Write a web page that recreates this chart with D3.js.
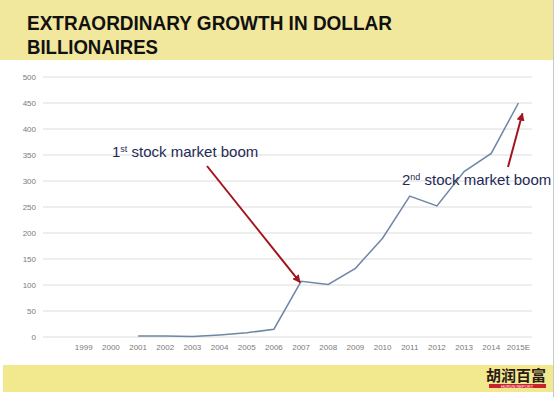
<!DOCTYPE html>
<html lang="en">
<head>
<meta charset="utf-8">
<title>Extraordinary growth in dollar billionaires</title>
<script src="https://cdn.jsdelivr.net/npm/d3@7"></script>
<style>
body { margin: 0; background: #fff; }
svg { display: block; font-family: "Liberation Sans", Arial, sans-serif; }
.axis text { font-size: 8px; fill: #7a7a7a; }
.axis .domain { display: none; }
</style>
</head>
<body>
<svg width="557" height="397"></svg>
<script>

// first slot on the category axis is an empty one, like in the original sheet
const years = ['', '1999', '2000', '2001', '2002', '2003', '2004', '2005', '2006',
  '2007', '2008', '2009', '2010', '2011', '2012', '2013', '2014', '2015E'];
const billionaires = [null, null, null, 2, 2, 1, 4, 8, 15,
  107, 101, 132, 190, 271, 252, 318, 353, 450];
const yTicks = [0, 50, 100, 150, 200, 250, 300, 350, 400, 450, 500];

const svg = d3.select('svg'),
    plotLeft = 43, plotRight = 532, plotTop = 77, plotBottom = 337;

// yellow bands top and bottom
svg.append('rect').attr('x', 0).attr('y', 0).attr('width', 553).attr('height', 60)
  .attr('fill', '#f1e79d');
svg.append('rect').attr('x', 3).attr('y', 365).attr('width', 550).attr('height', 27)
  .attr('fill', '#f2e98f');
svg.append('line').attr('x1', 553.5).attr('x2', 553.5).attr('y1', 0).attr('y2', 397)
  .attr('stroke', '#c8c8c8');

// title is a bit narrower than plain Liberation bold, so squeeze it
svg.append('text').attr('x', 27).attr('y', 30)
  .attr('font-size', 20).attr('font-weight', 'bold').attr('fill', '#111')
  .attr('textLength', 365).attr('lengthAdjust', 'spacingAndGlyphs')
  .text('EXTRAORDINARY GROWTH IN DOLLAR');
svg.append('text').attr('x', 27).attr('y', 54)
  .attr('font-size', 20).attr('font-weight', 'bold').attr('fill', '#111')
  .attr('textLength', 131).attr('lengthAdjust', 'spacingAndGlyphs')
  .text('BILLIONAIRES');

let x = d3.scaleBand().domain(years).range([plotLeft, plotRight]);
let y = d3.scaleLinear().domain([0, 500]).range([plotBottom, plotTop]);

// gridlines
svg.append('g').selectAll('line')
  .data(yTicks)
  .enter().append('line')
    .attr('x1', plotLeft).attr('x2', plotRight)
    .attr('y1', d => y(d)).attr('y2', d => y(d))
    .attr('stroke', '#dcdcdc').attr('stroke-width', 1);

svg.append('g')
  .attr('class', 'axis')
  .attr('transform', 'translate(' + (plotLeft - 4) + ',0)')
  .call(d3.axisLeft(y).tickValues(yTicks).tickSize(0));

svg.append('g')
  .attr('class', 'axis')
  .attr('transform', 'translate(0,' + (plotBottom + 4) + ')')
  .call(d3.axisBottom(x).tickSize(0));

let line = d3.line()
  .defined(d => d != null)
  .x((d, i) => x(years[i]) + x.bandwidth() / 2)
  .y(d => y(d));

svg.append('path')
  .datum(billionaires)
  .attr('fill', 'none')
  .attr('stroke', '#6f86a6')
  .attr('stroke-width', 1.5)
  .attr('d', line);

// annotations
svg.append('defs').append('marker')
    .attr('id', 'head')
    .attr('viewBox', '0 0 10 10')
    .attr('refX', 9).attr('refY', 5)
    .attr('markerWidth', 4).attr('markerHeight', 4)
    .attr('orient', 'auto')
  .append('path')
    .attr('d', 'M0,0L10,5L0,10z')
    .attr('fill', '#a3141d');

let arrow = (x1, y1, x2, y2) => svg.append('line')
  .attr('x1', x1).attr('y1', y1).attr('x2', x2).attr('y2', y2)
  .attr('stroke', '#a3141d').attr('stroke-width', 2)
  .attr('marker-end', 'url(#head)');

let xMid = yr => x(yr) + x.bandwidth() / 2;

arrow(207, 166, xMid('2007') - 1, y(107) + 1);
arrow(508, 167, xMid('2015E') + 4, y(430));

let note = (tx, ty, num, sup) => {
  let t = svg.append('text').attr('x', tx).attr('y', ty)
    .attr('font-size', 15).attr('fill', '#1f2a55');
  t.append('tspan').text(num);
  t.append('tspan').attr('font-size', 9).attr('dy', -5).text(sup);
  t.append('tspan').attr('dy', 5).text(' stock market boom');
};
note(112, 157, '1', 'st');
note(402, 185, '2', 'nd');

// logo
svg.append('text').attr('x', 486).attr('y', 381)
  .attr('font-family', '"Noto Sans CJK SC"').attr('font-weight', 'bold')
  .attr('font-size', 15).attr('fill', '#2a1a14')
  .text('胡润百富');
svg.append('rect').attr('x', 489).attr('y', 384).attr('width', 57).attr('height', 4)
  .attr('fill', '#c8232a');
svg.append('text').attr('x', 517).attr('y', 387.5)
  .attr('text-anchor', 'middle').attr('font-size', 4).attr('fill', '#fff')
  .text('HURUN REPORT');

</script>
</body>
</html>
